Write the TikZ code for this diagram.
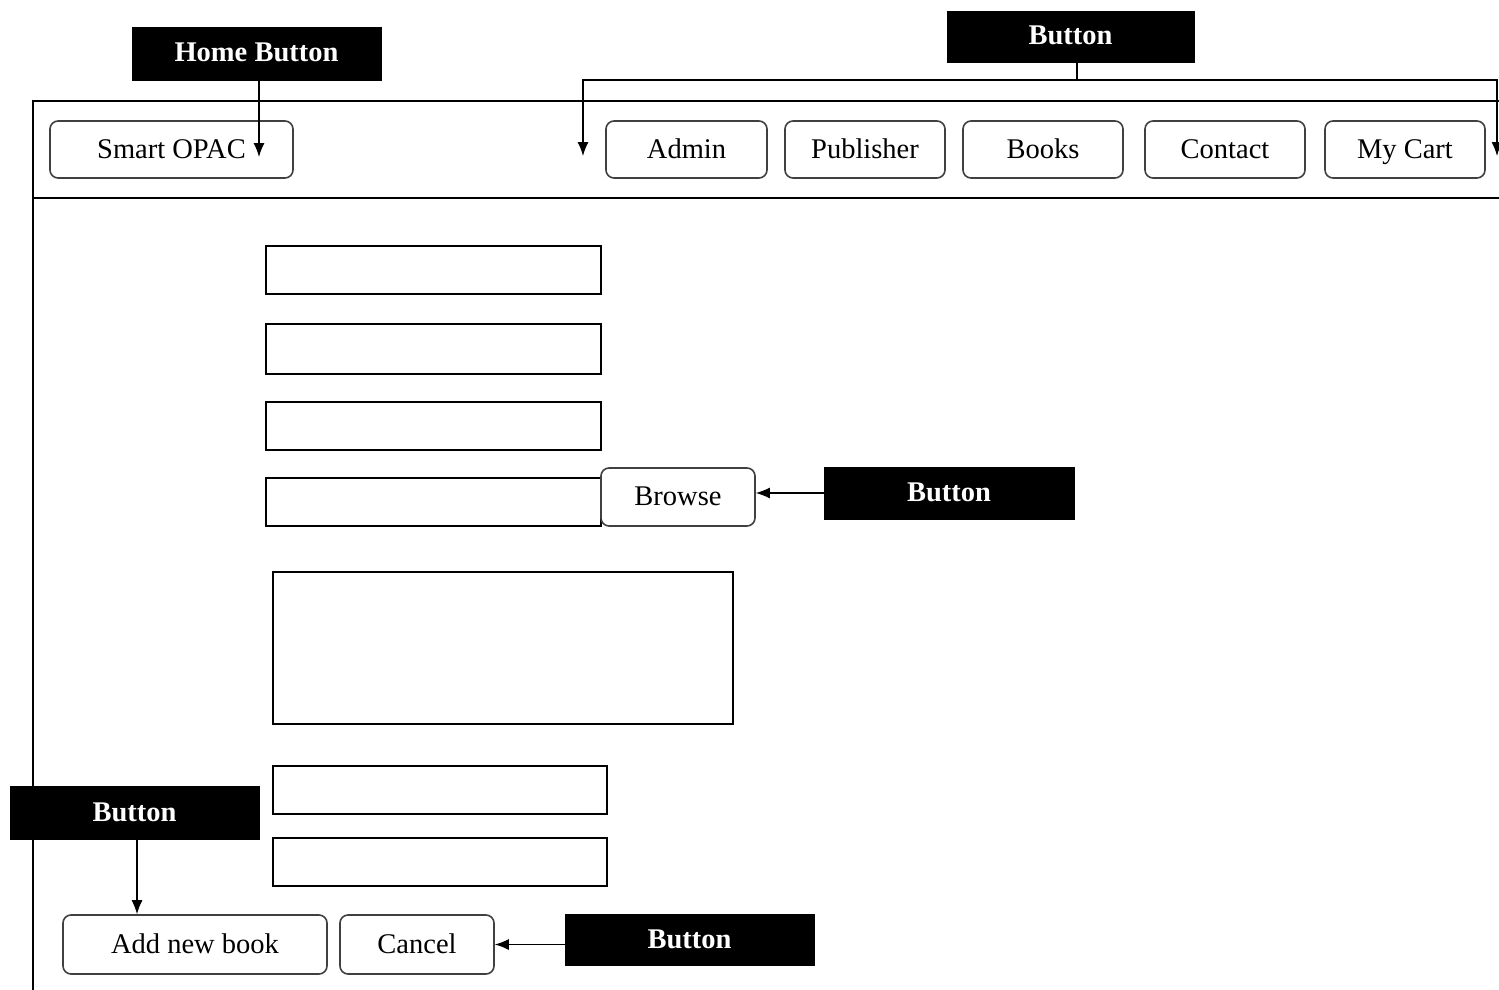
\documentclass[tikz,border=0pt]{standalone}
\usepackage{fontspec}
\setmainfont{Liberation Serif}
\usetikzlibrary{arrows.meta}
\begin{document}
\begin{tikzpicture}[x=1pt,y=-1pt,
  every node/.style={font=\fontsize{28.5}{32}\selectfont,text height=21pt,text depth=4pt},
  tag/.style={fill=black,draw=black,text=white,font=\fontsize{28.5}{32}\selectfont\bfseries,inner sep=0pt},
  btn/.style={draw=black!75,line width=1.6pt,rounded corners=8pt,inner sep=0pt,fill=white},
  field/.style={draw=black,line width=1.4pt,inner sep=0pt},
  frame/.style={draw=black,line width=1.4pt},
  conn/.style={draw=black,line width=1.3pt},
  arr/.style={conn,-{Latex[length=14pt,width=11pt]}}]
\useasboundingbox (0,0) rectangle (1499,990);
% frame
\draw[frame] (33,992) -- (33,101) -- (1502,101);
\draw[frame] (33,198) -- (1502,198);
% tags
\node[tag,minimum width=249pt,minimum height=53pt] (home) at (256.5,53.5) {Home Button};
\node[tag,minimum width=247pt,minimum height=51pt] (top) at (1070.5,36.5) {Button};
\node[tag,minimum width=250pt,minimum height=52pt] (tbrowse) at (949,493) {Button};
\node[tag,minimum width=249pt,minimum height=53pt] (tadd) at (134.5,812.5) {Button};
\node[tag,minimum width=249pt,minimum height=51pt] (tcancel) at (689.5,939.5) {Button};
% nav buttons
\node[btn,minimum width=243pt,minimum height=57pt] (smart) at (171.5,149.5) {Smart OPAC};
\node[btn,minimum width=161pt,minimum height=57pt] (admin) at (686.5,149.5) {Admin};
\node[btn,minimum width=160pt,minimum height=57pt] (pub) at (865,149.5) {Publisher};
\node[btn,minimum width=160pt,minimum height=57pt] (books) at (1043,149.5) {Books};
\node[btn,minimum width=160pt,minimum height=57pt] (contact) at (1225,149.5) {Contact};
\node[btn,minimum width=160pt,minimum height=57pt] (cart) at (1405,149.5) {My Cart};
% fields
\node[field,minimum width=335pt,minimum height=48pt] (f1) at (433.5,270) {};
\node[field,minimum width=335pt,minimum height=50pt] (f2) at (433.5,349) {};
\node[field,minimum width=335pt,minimum height=48pt] (f3) at (433.5,426) {};
\node[field,minimum width=335pt,minimum height=48pt] (f4) at (433.5,502) {};
\node[btn,minimum width=154pt,minimum height=58pt] (browse) at (678,497) {Browse};
\node[field,minimum width=460pt,minimum height=152pt] (area) at (503,648) {};
\node[field,minimum width=334pt,minimum height=48pt] (f5) at (440,790) {};
\node[field,minimum width=334pt,minimum height=48pt] (f6) at (440,862) {};
\node[btn,minimum width=264pt,minimum height=59pt] (add) at (195,944.5) {Add new book};
\node[btn,minimum width=154pt,minimum height=59pt] (cancel) at (417,944.5) {Cancel};
% connectors
\coordinate (homeend) at (259,157);
\draw[arr] (home.south -| homeend) -- (homeend);
\coordinate (jn) at (1077,80);
\coordinate (leftend) at (583,156);
\coordinate (rightend) at (1497,156);
\draw[conn] (top.south -| jn) -- (jn);
\draw[arr] (jn) -| (leftend);
\draw[arr] (jn) -| (rightend);
\draw[arr] (tbrowse.west) -- (tbrowse.west -| browse.east);
\draw[arr] (tadd.south -| 137,0) -- (add.north -| 137,0);
\draw[arr] (tcancel.west |- cancel.east) -- (cancel.east);
\end{tikzpicture}
\end{document}
